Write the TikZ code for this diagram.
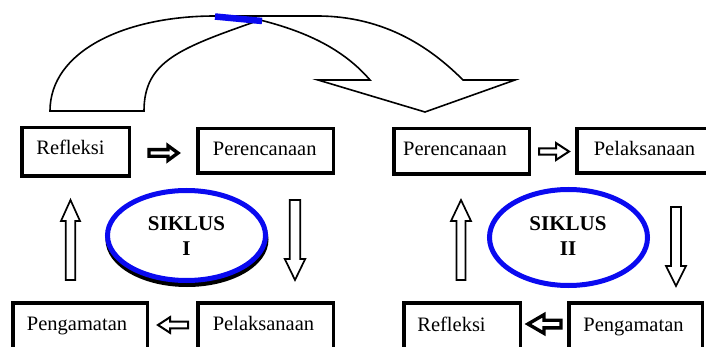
\documentclass[tikz,border=0pt]{standalone}
\usepackage{fontspec}
\setmainfont{Liberation Serif}
\usetikzlibrary{shapes.geometric}
\definecolor{ringblue}{RGB}{10,10,240}
\newcommand{\blockarrow}[7][]{\draw[#1,shift={(#2)},rotate=#3] (0,{-(#5)}) -- ({#4-#7},{-(#5)}) -- ({#4-#7},{-(#6)}) -- (#4,0) -- ({#4-#7},#6) -- ({#4-#7},#5) -- (0,#5) -- cycle;}
\tikzset{
  stagebox/.style={draw, line width=3.5pt, rectangle, inner sep=0pt},
  lbl/.style={font=\fontsize{20.5}{24}\selectfont, anchor=base, inner sep=0pt},
  cyc/.style={font=\fontsize{21}{25}\selectfont\bfseries, anchor=base, inner sep=0pt},
  ring/.style={ellipse, draw=ringblue, line width=5pt, inner sep=0pt},
  thickarrow/.style={draw=black, fill=white, line width=3.4pt, line join=miter},
  midarrow/.style={draw=black, fill=white, line width=2pt, line join=miter},
  thinarrow/.style={draw=black, fill=white, line width=1.7pt, line join=miter},
  curvearrow/.style={draw=black, fill=white, line width=1.6pt, line join=miter}
}
\begin{document}
\begin{tikzpicture}[x=1pt,y=-1pt]
\useasboundingbox (0,0) rectangle (706,347);
\clip (0,0) rectangle (706,347);

% big curved arrow
\draw[curvearrow] (50,111) .. controls (50,51) and (125,16) .. (215,16)
  -- (317,16) .. controls (387,16) and (433,50) .. (463,80)
  -- (515,80) -- (425,112) -- (318,80) -- (370,80)
  .. controls (345,51) and (310,32.5) .. (260,20)
  .. controls (180,48) and (144,61) .. (144,111) -- cycle;
\coordinate (bA) at (215,16.5);
\coordinate (bB) at (262,21);
\draw[ringblue, line width=6.5pt] (bA) -- (bB);

% cycle I boxes
\node[stagebox, minimum width=107.5, minimum height=48.5] (ref1) at (75.5,152) {};
\node[stagebox, minimum width=135.5, minimum height=44.5] (per1) at (265.5,151) {};
\node[stagebox, minimum width=134.5, minimum height=48.5] (pen1) at (80,327) {};
\node[stagebox, minimum width=135.5, minimum height=48.5] (pel1) at (265.5,327) {};
\node[lbl] (tref1) at (70.5,155) {Refleksi};
\node[lbl] (tper1) at (264.7,155.5) {Perencanaan};
\node[lbl] (tpen1) at (77,330) {Pengamatan};
\node[lbl] (tpel1) at (263.5,330) {Pelaksanaan};

% cycle II boxes
\node[stagebox, minimum width=135.5, minimum height=45.5] (per2) at (461.5,151.5) {};
\node[stagebox, minimum width=135.5, minimum height=44.5] (pel2) at (644.5,151) {};
\node[stagebox, minimum width=116.5, minimum height=48.5] (ref2) at (462,327) {};
\node[stagebox, minimum width=133.5, minimum height=48.5] (pen2) at (635.5,327) {};
\node[lbl] (tper2) at (455,156) {Perencanaan};
\node[lbl] (tpel2) at (644.5,155.5) {Pelaksanaan};
\node[lbl] (tref2) at (451.5,331) {Refleksi};
\node[lbl] (tpen2) at (633.5,331) {Pengamatan};

% rings
\node[ellipse, draw=black, line width=5pt, minimum width=158, minimum height=90] (sh1) at (187,239.5) {};
\node[ring, fill=white, minimum width=158, minimum height=90] (c1) at (186.5,235.5) {};
\node[cyc] (s1a) at (186.5,231) {SIKLUS};
\node[cyc] (s1b) at (186.5,255.5) {I};
\node[ring, minimum width=158, minimum height=96] (c2) at (568.5,237.5) {};
\node[cyc] (s2a) at (568,231) {SIKLUS};
\node[cyc] (s2b) at (568,255.5) {II};

% block arrows, cycle I
\blockarrow[thickarrow]{149,153}{0}{29}{3.3}{7.3}{10}
\blockarrow[thinarrow]{70.5,280}{90}{80}{4.8}{9.5}{21}
\blockarrow[thinarrow]{295,200}{270}{80}{5.2}{10.2}{21}
\blockarrow[midarrow]{188,325}{180}{30}{3.3}{7.8}{12}

% block arrows, cycle II
\blockarrow[midarrow]{539,151.5}{0}{30}{3.2}{8.5}{13}
\blockarrow[thinarrow]{461,280}{90}{80}{4.5}{10}{21}
\blockarrow[thinarrow]{676,207}{270}{79}{5}{10}{20}
\blockarrow[thickarrow]{561,324}{180}{33}{3.8}{9.3}{16}
\end{tikzpicture}
\end{document}
